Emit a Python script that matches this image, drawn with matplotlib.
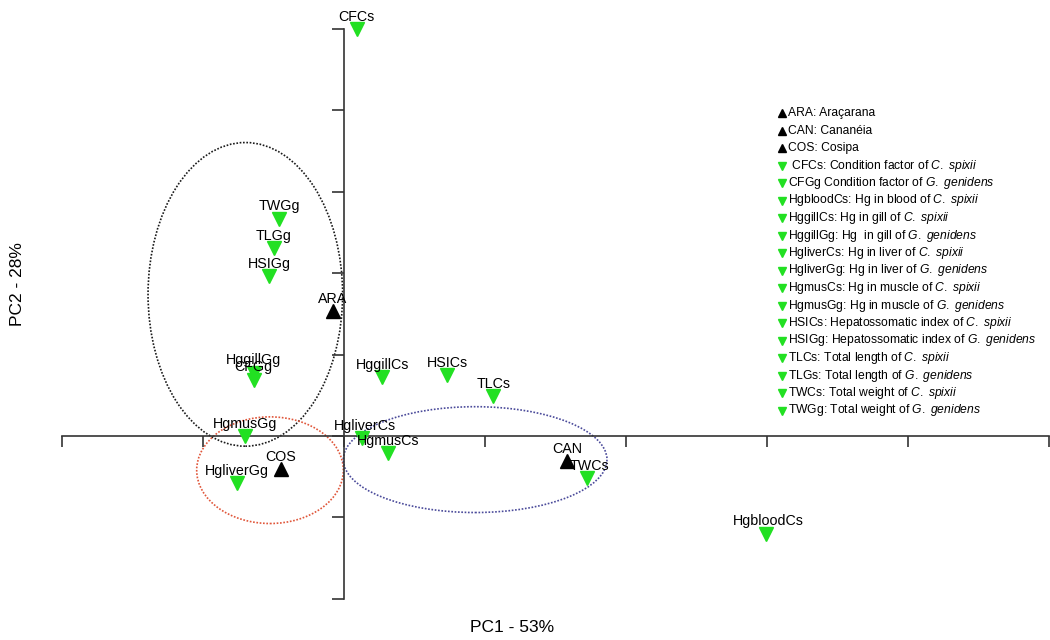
import matplotlib
matplotlib.use("Agg")
import matplotlib.pyplot as plt
from matplotlib.patches import Ellipse

plt.rcParams['font.family'] = ['Liberation Sans', 'DejaVu Sans']
plt.rcParams['mathtext.fontset'] = 'custom'
plt.rcParams['mathtext.rm'] = 'Liberation Sans'
plt.rcParams['mathtext.it'] = 'Liberation Sans:italic'

# PCA scores (PC1, PC2)
site_names = ['ARA', 'CAN', 'COS']
site_pc1 = [-0.08, 1.58, -0.45]
site_pc2 = [1.53, -0.31, -0.41]

var_names = ['CFCs', 'TWGg', 'TLGg', 'HSIGg', 'HggillGg', 'CFGg', 'HgmusGg',
             'HgliverGg', 'HggillCs', 'HSICs', 'TLCs', 'HgliverCs', 'HgmusCs',
             'TWCs', 'HgbloodCs']
var_pc1 = [0.09, -0.46, -0.50, -0.53, -0.64, -0.64, -0.70,
           -0.76, 0.27, 0.73, 1.06, 0.13, 0.31,
           1.72, 2.99]
var_pc2 = [5.00, 2.67, 2.31, 1.96, 0.78, 0.69, 0.00,
           -0.58, 0.72, 0.75, 0.49, -0.03, -0.21,
           -0.52, -1.20]

# group ellipses: centre, width, height
groups = {
    'ARA': ((-0.70, 1.74), 1.38, 3.73, '#1a1a1a'),
    'COS': ((-0.525, -0.42), 1.04, 1.31, '#e0563a'),
    'CAN': ((0.93, -0.29), 1.87, 1.30, '#4a4a9a'),
}

legend_lines = [
    ('^', 'ARA: Araçarana'),
    ('^', 'CAN: Cananéia'),
    ('^', 'COS: Cosipa'),
    ('v', r' CFCs: Condition factor of $\mathit{C.\ spixii}$'),
    ('v', r'CFGg Condition factor of $\mathit{G.\ genidens}$'),
    ('v', r'HgbloodCs: Hg in blood of $\mathit{C.\ spixii}$'),
    ('v', r'HggillCs: Hg in gill of $\mathit{C.\ spixii}$'),
    ('v', r'HggillGg: Hg  in gill of $\mathit{G.\ genidens}$'),
    ('v', r'HgliverCs: Hg in liver of $\mathit{C.\ spixii}$'),
    ('v', r'HgliverGg: Hg in liver of $\mathit{G.\ genidens}$'),
    ('v', r'HgmusCs: Hg in muscle of $\mathit{C.\ spixii}$'),
    ('v', r'HgmusGg: Hg in muscle of $\mathit{G.\ genidens}$'),
    ('v', r'HSICs: Hepatossomatic index of $\mathit{C.\ spixii}$'),
    ('v', r'HSIGg: Hepatossomatic index of $\mathit{G.\ genidens}$'),
    ('v', r'TLCs: Total length of $\mathit{C.\ spixii}$'),
    ('v', r'TLGs: Total length of $\mathit{G.\ genidens}$'),
    ('v', r'TWCs: Total weight of $\mathit{C.\ spixii}$'),
    ('v', r'TWGg: Total weight of $\mathit{G.\ genidens}$'),
]

green = '#22e022'

fig = plt.figure(figsize=(10.5, 6.4), dpi=100)
ax = fig.add_axes([0, 0, 1, 1])
ax.set_xlim(-2.44, 5.007)
ax.set_ylim(-2.506, 5.356)

# axes crossing at the origin
for side in ['top', 'right']:
    ax.spines[side].set_visible(False)
ax.spines['left'].set_position(('data', 0))
ax.spines['bottom'].set_position(('data', 0))
ax.spines['left'].set_bounds(-2, 5)
ax.spines['bottom'].set_bounds(-2, 5)
for side in ['left', 'bottom']:
    ax.spines[side].set_color('#333333')
    ax.spines[side].set_linewidth(1.2)
ax.set_xticks(range(-2, 6))
ax.set_yticks(range(-2, 6))
ax.tick_params(axis='x', direction='out', length=8, width=1.2, color='#333333', labelbottom=False)
ax.tick_params(axis='y', direction='out', length=9, width=1.2, color='#333333', labelleft=False)
ax.patch.set_visible(False)

for key, (c, w, h, col) in groups.items():
    ax.add_patch(Ellipse(c, w, h, fill=False, ec=col, lw=1.2, ls=(0, (1, 1)), zorder=1))

ax.plot(var_pc1, var_pc2, 'v', color=green, ms=10, mec=green, ls='none', zorder=3)
ax.plot(site_pc1, site_pc2, '^', color='black', ms=10, ls='none', zorder=3)

label_shift = {'TWCs': (2, 0), 'HgliverCs': (2, 0), 'HgbloodCs': (2, 0)}
for name, x, y in zip(var_names + site_names, var_pc1 + site_pc1, var_pc2 + site_pc2):
    dx, dy = label_shift.get(name, (0, 0))
    ax.annotate(name, (x, y), xytext=(dx, 6 + dy), textcoords='offset points',
                ha='center', va='baseline', fontsize=10.3, zorder=4)

fig.text(512 / 1050, 1 - 627 / 640, 'PC1 - 53%', ha='center', va='center', fontsize=12.5)
fig.text(18 / 1050, 1 - 284 / 640, 'PC2 - 28%', ha='center', va='center',
         rotation=90, fontsize=12.5)

# legend block
y0 = 1 - 113 / 640
step = 17.5 / 640
for i, (mk, txt) in enumerate(legend_lines):
    yy = y0 - i * step
    col = 'black' if mk == '^' else green
    ax.plot([782 / 1050], [yy], mk, color=col, mec=col, ms=6,
            transform=fig.transFigure, clip_on=False)
    fig.text(788 / 1050, yy, txt, ha='left', va='center', fontsize=8.7)

fig.savefig('out.png', dpi=100)
